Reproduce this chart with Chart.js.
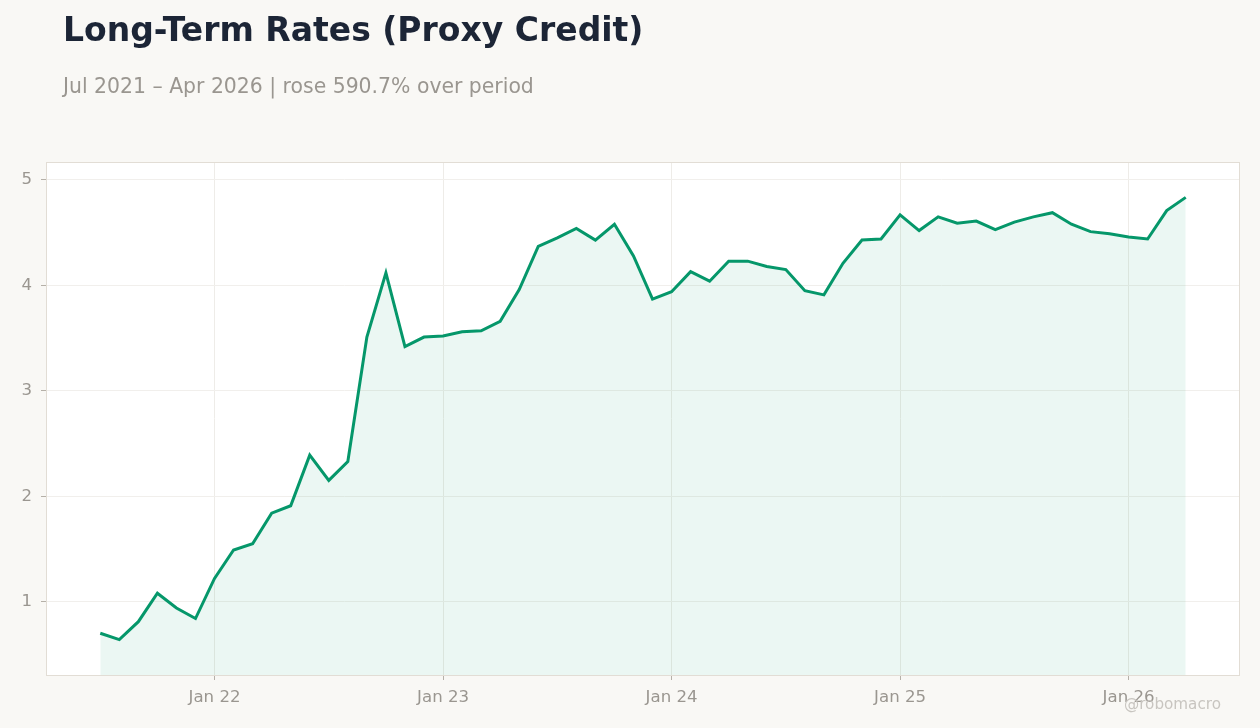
<!DOCTYPE html>
<html>
<head>
<meta charset="utf-8">
<script src="https://cdn.jsdelivr.net/npm/chart.js@4.4.1/dist/chart.umd.min.js"></script>
<style>
  html, body { margin: 0; padding: 0; background: #f9f8f5; }
  body { width: 1260px; height: 728px; position: relative; overflow: hidden; font-family: "DejaVu Sans", sans-serif; }
  #title { position: absolute; left: 63px; top: 10px; font-size: 33px; font-weight: bold; color: #1c2536; white-space: nowrap; }
  #subtitle { position: absolute; left: 63px; top: 74px; font-size: 20.4px; color: #9a9690; white-space: nowrap; }
  #credit { position: absolute; left: 1124px; top: 695px; font-size: 15.2px; color: #c8c5c0; white-space: nowrap; }
  #rates-chart { position: absolute; left: 0; top: 0; }
</style>
</head>
<body>
<canvas id="rates-chart" width="1260" height="728"></canvas>
<div id="title">Long-Term Rates (Proxy Credit)</div>
<div id="subtitle">Jul 2021 – Apr 2026 | rose 590.7% over period</div>
<div id="credit">@robomacro</div>
<script>
// 月份（Jul 2021 – Apr 2026）
var months = [
  '2021-07', '2021-08', '2021-09', '2021-10', '2021-11', '2021-12',
  '2022-01', '2022-02', '2022-03', '2022-04', '2022-05', '2022-06',
  '2022-07', '2022-08', '2022-09', '2022-10', '2022-11', '2022-12',
  '2023-01', '2023-02', '2023-03', '2023-04', '2023-05', '2023-06',
  '2023-07', '2023-08', '2023-09', '2023-10', '2023-11', '2023-12',
  '2024-01', '2024-02', '2024-03', '2024-04', '2024-05', '2024-06',
  '2024-07', '2024-08', '2024-09', '2024-10', '2024-11', '2024-12',
  '2025-01', '2025-02', '2025-03', '2025-04', '2025-05', '2025-06',
  '2025-07', '2025-08', '2025-09', '2025-10', '2025-11', '2025-12',
  '2026-01', '2026-02', '2026-03', '2026-04'
];

// 長期利率（讀圖估計）
var rates = [
  0.70, 0.64, 0.81, 1.08, 0.94, 0.84,
  1.22, 1.49, 1.55, 1.84, 1.91, 2.39,
  2.15, 2.33, 3.51, 4.12, 3.42, 3.51,
  3.52, 3.56, 3.57, 3.66, 3.96, 4.37,
  4.45, 4.54, 4.43, 4.58, 4.28, 3.87,
  3.94, 4.13, 4.04, 4.23, 4.23, 4.18,
  4.15, 3.95, 3.91, 4.21, 4.43, 4.44,
  4.67, 4.52, 4.65, 4.59, 4.61, 4.53,
  4.60, 4.65, 4.69, 4.58, 4.51, 4.49,
  4.46, 4.44, 4.71, 4.835
];

var yTicks = [1, 2, 3, 4, 5];

var lineColor = '#05976a';
var fillColor = 'rgba(5, 151, 106, 0.08)';

// 一月才顯示刻度
function isJan(i) {
  return months[i] && months[i].slice(5) === '01';
}

function janLabel(i) {
  return 'Jan ' + months[i].slice(2, 4);
}

var points = rates.map((v, i) => ({ x: i, y: v }));
var span = months.length - 1;
var lo = Math.min(...rates), hi = Math.max(...rates);
var pad = (hi - lo) * 0.08;
var janIdx = months.map((m, i) => i).filter(isJan);

// 畫圖區白底和外框
var areaBox = {
  id: 'areaBox',
  beforeDraw(chart) {
    var a = chart.chartArea, c = chart.ctx;
    c.save();
    c.fillStyle = '#ffffff';
    c.fillRect(a.left, a.top, a.right - a.left, a.bottom - a.top);
    c.restore();
  },
  afterDraw(chart) {
    var a = chart.chartArea, c = chart.ctx;
    c.save();
    c.strokeStyle = '#e2ddd5';
    c.lineWidth = 1;
    c.strokeRect(a.left + 0.5, a.top + 0.5, a.right - a.left - 1, a.bottom - a.top);
    c.restore();
  }
};

var ctx = document.getElementById('rates-chart').getContext('2d');
var ratesChart = new Chart(ctx, {
  type: 'line',
  data: {
    datasets: [{
      data: points,
      borderColor: lineColor,
      backgroundColor: fillColor,
      borderWidth: 3,
      fill: 'start',
      pointRadius: 0,
      tension: 0
    }]
  },
  options: {
    responsive: false,
    animation: false,
    devicePixelRatio: 1,
    layout: { padding: { top: 162, right: 20, bottom: 0, left: 0 } },
    plugins: {
      legend: { display: false },
      tooltip: { enabled: false }
    },
    scales: {
      x: {
        type: 'linear',
        min: -span * 0.05,
        max: span * 1.05,
        afterBuildTicks(scale) {
          scale.ticks = janIdx.map(i => ({ value: i }));
        },
        afterFit(scale) { scale.height = 53; },
        border: { display: false },
        grid: { color: '#eeece8', tickColor: '#b5b0a8', tickLength: 5 },
        ticks: {
          autoSkip: false,
          maxRotation: 0,
          padding: 8,
          color: '#9a9690',
          font: { family: 'DejaVu Sans', size: 16.6 },
          callback: (v) => janLabel(v)
        }
      },
      y: {
        min: lo - pad,
        max: hi + pad,
        afterBuildTicks(scale) {
          scale.ticks = yTicks.map(v => ({ value: v }));
        },
        afterFit(scale) { scale.width = 46; },
        border: { display: false },
        grid: { color: '#f1efec', tickColor: '#b5b0a8', tickLength: 5 },
        ticks: {
          padding: 9,
          color: '#9a9690',
          font: { family: 'DejaVu Sans', size: 16.6 }
        }
      }
    }
  },
  plugins: [areaBox]
});
</script>
</body>
</html>
